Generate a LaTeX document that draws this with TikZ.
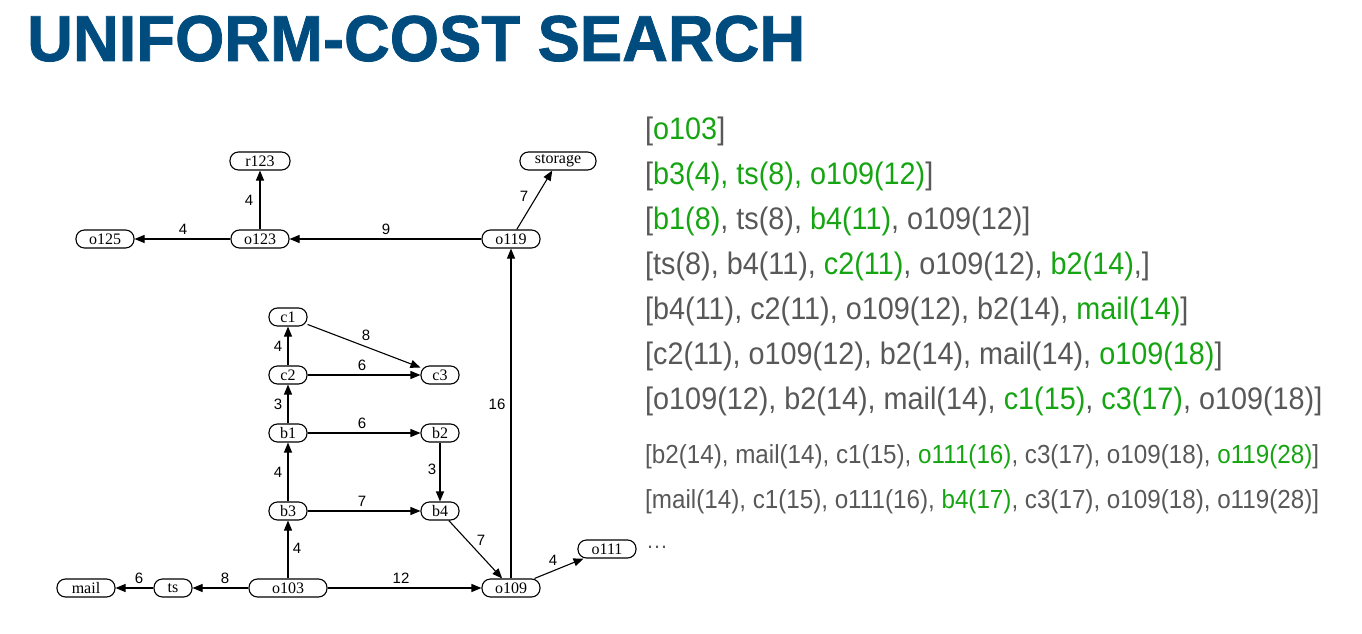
\documentclass[tikz,border=0pt]{standalone}
\usepackage{fontspec}
\setmainfont{Liberation Serif}
\newfontfamily\sansf{Liberation Sans}
\newfontfamily\headf[FakeBold=1.2]{Liberation Sans Bold}
\usetikzlibrary{arrows.meta}

\definecolor{titleblue}{RGB}{0,76,127}
\definecolor{qgreen}{RGB}{22,165,18}
\definecolor{qgray}{RGB}{88,88,88}
\newcommand{\grn}[1]{\textcolor{qgreen}{#1}}
\newcommand{\tallq}[1]{\scalebox{1}[1.08]{#1}}

\tikzset{
  state/.style={draw, line width=1.1pt, rounded corners=8.5pt, minimum height=18pt,
                inner sep=0pt, font=\fontsize{16}{16}\selectfont},
  edge/.style={line width=1.1pt, -{Triangle[length=10pt,width=8pt]}},
  lbl/.style={inner sep=0pt, font=\sansf\fontsize{15}{15}\selectfont},
  bigq/.style={anchor=base west, inner sep=0pt, text=qgray,
               font=\sansf\fontsize{28.8}{28.8}\selectfont},
  smallq/.style={anchor=base west, inner sep=0pt, text=qgray,
                 font=\sansf\fontsize{24.2}{24.2}\selectfont},
}

\begin{document}
\begin{tikzpicture}[x=1pt, y=-1pt]
\useasboundingbox (0,0) rectangle (1362,634);

% heading
\node[anchor=base west, inner sep=0pt, text=titleblue,
      font=\headf\fontsize{65}{65}\selectfont] (title) at (27,61)
  {\scalebox{0.975}[1]{UNIFORM-COST SEARCH}};

% graph nodes
\node[state, minimum width=60pt] (r123)    at (260,161) {r123};
\node[state, minimum width=76pt] (storage) at (558,161) {storage};
\node[state, minimum width=58pt] (o125)    at (105,239) {o125};
\node[state, minimum width=58pt] (o123)    at (260,239) {o123};
\node[state, minimum width=58pt] (o119)    at (511,239) {o119};
\node[state, minimum width=38pt] (c1)      at (288,317) {c1};
\node[state, minimum width=38pt] (c2)      at (288,375) {c2};
\node[state, minimum width=38pt] (c3)      at (440,375) {c3};
\node[state, minimum width=38pt] (b1)      at (288,433) {b1};
\node[state, minimum width=38pt] (b2)      at (440,433) {b2};
\node[state, minimum width=38pt] (b3)      at (288,511) {b3};
\node[state, minimum width=38pt] (b4)      at (440,511) {b4};
\node[state, minimum width=58pt] (mail)    at (86,588)  {mail};
\node[state, minimum width=38pt] (ts)      at (173,588) {ts};
\node[state, minimum width=78pt] (o103)    at (288,588) {o103};
\node[state, minimum width=58pt] (o109)    at (511,588) {o109};
\node[state, minimum width=58pt] (o111)    at (607,549) {o111};
\node[anchor=west, inner sep=0pt, text=qgray, font=\sansf\fontsize{22}{22}\selectfont]
  (more) at (646,547) {…};

% weighted arcs
\draw[edge] (o123) -- (o125)    node[lbl] (w1)  at (183,229) {4};
\draw[edge] (o123) -- (r123)    node[lbl] (w2)  at (249,200) {4};
\draw[edge] (o119) -- (o123)    node[lbl] (w3)  at (386,229) {9};
\draw[edge] (o119) -- (storage) node[lbl] (w4)  at (524,196) {7};
\draw[edge] (c1) -- (c3)        node[lbl] (w5)  at (366,335) {8};
\draw[edge] (c2) -- (c1)        node[lbl] (w6)  at (278,346) {4};
\draw[edge] (c2) -- (c3)        node[lbl] (w7)  at (362,365) {6};
\draw[edge] (b1) -- (c2)        node[lbl] (w8)  at (278,404) {3};
\draw[edge] (b1) -- (b2)        node[lbl] (w9)  at (362,423) {6};
\draw[edge] (b3) -- (b1)        node[lbl] (w10) at (278,472) {4};
\draw[edge] (b2) -- (b4)        node[lbl] (w11) at (432,469) {3};
\draw[edge] (b3) -- (b4)        node[lbl] (w12) at (362,501) {7};
\draw[edge] (b4) -- (o109)      node[lbl] (w13) at (481,540) {7};
\draw[edge] (o103) -- (b3)      node[lbl] (w14) at (297,548) {4};
\draw[edge] (o103) -- (ts)      node[lbl] (w15) at (225,578) {8};
\draw[edge] (ts) -- (mail)      node[lbl] (w16) at (139,578) {6};
\draw[edge] (o103) -- (o109)    node[lbl] (w17) at (401,578) {12};
\draw[edge] (o109) -- (o119)    node[lbl] (w18) at (497,404) {16};
\draw[edge] (o109) -- (o111)    node[lbl] (w19) at (553,560) {4};

% frontier after each expansion
\node[bigq] (q1) at (645,139) {\tallq{[\grn{o103}]}};
\node[bigq] (q2) at (645,184) {\tallq{[\grn{b3(4), ts(8), o109(12)}]}};
\node[bigq] (q3) at (645,229) {\tallq{[\grn{b1(8)}, ts(8), \grn{b4(11)}, o109(12)]}};
\node[bigq] (q4) at (645,274) {\tallq{[ts(8), b4(11), \grn{c2(11)}, o109(12), \grn{b2(14)},]}};
\node[bigq] (q5) at (645,319) {\tallq{[b4(11), c2(11), o109(12), b2(14), \grn{mail(14)}]}};
\node[bigq] (q6) at (645,364) {\tallq{[c2(11), o109(12), b2(14), mail(14), \grn{o109(18)}]}};
\node[bigq] (q7) at (645,409) {\tallq{[o109(12), b2(14), mail(14), \grn{c1(15)}, \grn{c3(17)}, o109(18)]}};
\node[smallq] (q8) at (645,463) {\tallq{[b2(14), mail(14), c1(15), \grn{o111(16)}, c3(17), o109(18), \grn{o119(28)}]}};
\node[smallq] (q9) at (645,508) {\tallq{[mail(14), c1(15), o111(16), \grn{b4(17)}, c3(17), o109(18), o119(28)]}};
\end{tikzpicture}
\end{document}
